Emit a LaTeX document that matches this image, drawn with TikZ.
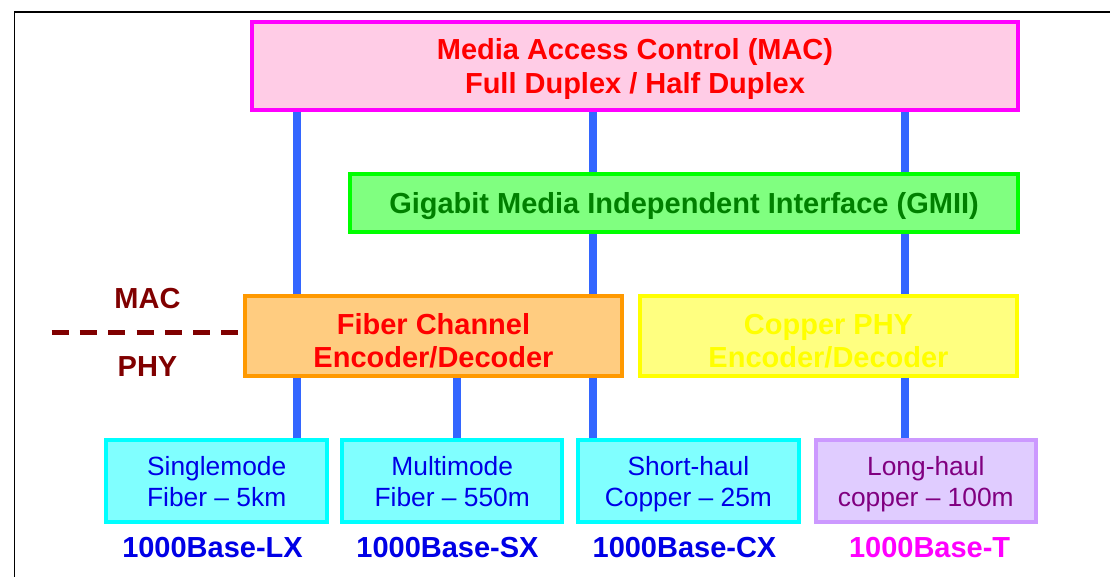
\documentclass[tikz,border=0pt]{standalone}
\usepackage{fontspec}
\setmainfont{Liberation Sans}
\definecolor{macPink}{RGB}{255,204,230}
\definecolor{macBorder}{RGB}{255,0,255}
\definecolor{gmiiFill}{RGB}{128,255,128}
\definecolor{gmiiBorder}{RGB}{0,255,0}
\definecolor{gmiiText}{RGB}{0,128,0}
\definecolor{fiberFill}{RGB}{255,204,128}
\definecolor{fiberBorder}{RGB}{255,153,0}
\definecolor{copperFill}{RGB}{255,255,128}
\definecolor{copperBorder}{RGB}{255,255,0}
\definecolor{mediaFill}{RGB}{128,255,255}
\definecolor{mediaBorder}{RGB}{0,255,255}
\definecolor{mediaText}{RGB}{0,0,230}
\definecolor{longFill}{RGB}{224,204,255}
\definecolor{longBorder}{RGB}{204,153,255}
\definecolor{longText}{RGB}{128,0,128}
\definecolor{busBlue}{RGB}{51,102,255}
\definecolor{layerRed}{RGB}{128,0,0}

\begin{document}
\begin{tikzpicture}[x=0.02cm, y=-0.02cm,
	layer/.style={draw, line width=0.08cm, align=center, inner sep=0pt, text depth=0pt, font=\fontsize{16.5}{18.8}\selectfont\bfseries},
	coder/.style={draw, line width=0.08cm, inner sep=0pt, minimum width=7.54cm, minimum height=1.6cm},
	coderText/.style={align=center, inner sep=0pt, yshift=-0.1cm, font=\fontsize{16.5}{18.8}\selectfont\bfseries},
	media/.style={draw=mediaBorder, fill=mediaFill, text=mediaText, line width=0.08cm, align=center, inner sep=0pt, text depth=0pt, minimum width=4.41cm, minimum height=1.66cm, font=\fontsize{15}{17.6}\selectfont},
	baseName/.style={anchor=base, inner sep=0pt, font=\fontsize{16.5}{18.8}\selectfont\bfseries},
	bus/.style={busBlue, line width=0.16cm}]

	\useasboundingbox (0,0) rectangle (1110,577);

% Frame.

	\draw[line width=0.04cm] (14.5,577) -- (14.5,12.5) -- (1110,12.5);

% Define nodes.

	%mac layer
	\node[layer, draw=macBorder, fill=macPink, text=red, minimum width=15.32cm, minimum height=1.76cm] (mac) at (635,66) {Media Access Control (MAC)\\Full Duplex / Half Duplex};

	%gmii
	\node[layer, draw=gmiiBorder, fill=gmiiFill, text=gmiiText, minimum width=13.36cm, minimum height=1.16cm] (gmii) at (684,203) {Gigabit Media Independent Interface (GMII)};

	%encoders
	\node[coder, draw=fiberBorder, fill=fiberFill, label={[coderText, text=red]center:Fiber Channel\\Encoder/Decoder}] (fiber) at (433.5,336) {};
	\node[coder, draw=copperBorder, fill=copperFill, label={[coderText, text=copperBorder]center:Copper PHY\\Encoder/Decoder}] (copper) at (828.5,336) {};

	%media
	\node[media] (lx) at (216.7,481) {Singlemode\\Fiber – 5km};
	\node[media] (sx) at (452.2,481) {Multimode\\Fiber – 550m};
	\node[media] (cx) at (688.4,481) {Short-haul\\Copper – 25m};
	\node[media, draw=longBorder, fill=longFill, text=longText] (t) at (925.8,481) {Long-haul\\copper – 100m};

	%standard names
	\node[baseName, text=mediaText] (lxName) at (212.5,558) {1000Base-LX};
	\node[baseName, text=mediaText] (sxName) at (447.5,558) {1000Base-SX};
	\node[baseName, text=mediaText] (cxName) at (684.5,558) {1000Base-CX};
	\node[baseName, text=macBorder] (tName) at (929.6,558) {1000Base-T};

	%mac / phy boundary
	\node[baseName, text=layerRed] (macLabel) at (147.5,309) {MAC};
	\node[baseName, text=layerRed] (phyLabel) at (147.5,377) {PHY};
	\coordinate (dashStart) at (51.7,332.5);

	%bus positions
	\coordinate (busA) at (296.5,0);
	\coordinate (busB) at (456.5,0);
	\coordinate (busC) at (593,0);
	\coordinate (busD) at (905,0);

% Draw boundary.

	\draw[layerRed, line width=0.1cm, dash pattern=on 0.34cm off 0.226cm] (dashStart) -- (dashStart -| fiber.west);

% Draw buses.

	\draw[bus] (mac.south -| busA) -- (fiber.north -| busA);
	\draw[bus] (mac.south -| busC) -- (gmii.north -| busC);
	\draw[bus] (gmii.south -| busC) -- (fiber.north -| busC);
	\draw[bus] (mac.south -| busD) -- (gmii.north -| busD);
	\draw[bus] (gmii.south -| busD) -- (copper.north -| busD);

	\draw[bus] (fiber.south -| busA) -- (lx.north -| busA);
	\draw[bus] (fiber.south -| busB) -- (sx.north -| busB);
	\draw[bus] (fiber.south -| busC) -- (cx.north -| busC);
	\draw[bus] (copper.south -| busD) -- (t.north -| busD);

\end{tikzpicture}
\end{document}
